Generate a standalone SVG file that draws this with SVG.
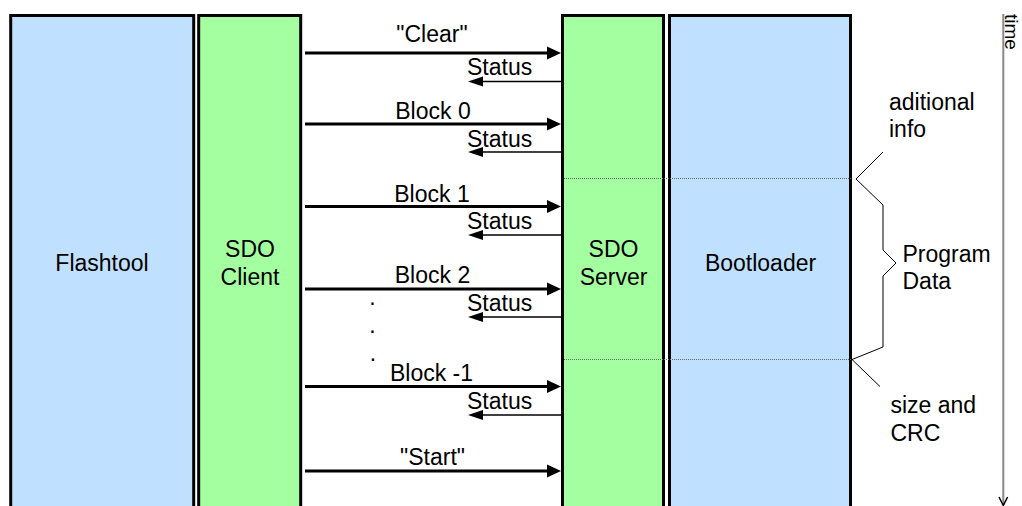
<svg xmlns="http://www.w3.org/2000/svg" width="1022" height="506" viewBox="0 0 1022 506">
<style>
.t{font-family:"Liberation Sans",Arial,sans-serif;font-size:23px;fill:#000}
.m{text-anchor:middle}
.blue{fill:#c0e0ff;stroke:#000;stroke-width:3}
.green{fill:#a3ffa0;stroke:#000;stroke-width:3}
.fw{stroke:#000;stroke-width:3.2;fill:none}
.bw{stroke:#000;stroke-width:1.5;fill:none}
.dot{stroke:#666;stroke-width:1;stroke-dasharray:1 1;fill:none}
.thin{stroke:#000;stroke-width:1;fill:none}
</style>
<defs>
<marker id="ahBig" markerUnits="userSpaceOnUse" markerWidth="16" markerHeight="16" viewBox="-2 -8 16 16" refX="0" refY="0" orient="auto">
<path d="M-1,-6.5 L13,0 L-1,6.5 z" fill="#000"/>
</marker>
<marker id="ahSmall" markerUnits="userSpaceOnUse" markerWidth="16" markerHeight="12" viewBox="-2 -6 16 12" refX="0" refY="0" orient="auto">
<path d="M-1,-5 L14,0 L-1,5 z" fill="#000"/>
</marker>
</defs>

<g id="flashtool">
<rect class="blue" x="10.7" y="15.5" width="183" height="520"/>
<text class="t m" x="102" y="271">Flashtool</text>
</g>
<g id="sdo-client">
<rect class="green" x="198.7" y="15.5" width="102" height="520"/>
<text class="t m" x="250" y="256.5">SDO</text>
<text class="t m" x="250" y="285">Client</text>
</g>
<g id="sdo-server">
<rect class="green" x="562.5" y="15.5" width="101" height="520"/>
<text class="t m" x="613.5" y="256.5">SDO</text>
<text class="t m" x="613.5" y="285">Server</text>
</g>
<g id="bootloader">
<rect class="blue" x="669.5" y="15.5" width="181" height="520"/>
<text class="t m" x="760.5" y="271">Bootloader</text>
</g>

<g id="sections">
<path class="dot" d="M564,178.5 H851 M564,359.5 H851"/>
<path class="thin" d="M883,152 L856,179 L883,205 L883,250 L896,263 L883,276 L883,347 L852,359.5 L880,386.5"/>
<text class="t" x="889" y="110">aditional</text>
<text class="t" x="889" y="137">info</text>
<text class="t" x="902.5" y="261.5">Program</text>
<text class="t" x="902.5" y="289">Data</text>
<text class="t" x="890.5" y="412.5">size and</text>
<text class="t" x="890.5" y="440.5">CRC</text>
</g>

<g id="time-axis">
<path d="M1003.3,14 V505" stroke="#888" stroke-width="2" fill="none"/>
<path d="M999,497 L1003.3,505.5 L1007.6,497" stroke="#000" stroke-width="1.5" fill="none"/>
<text class="t" style="font-size:19px" transform="translate(1004.8,14) rotate(90)">time</text>
</g>

<g id="connectors">
<path class="fw" d="M305,53 H548" marker-end="url(#ahBig)"/>
<path class="bw" d="M561,81.5 H482" marker-end="url(#ahSmall)"/>
<path class="fw" d="M305,124 H548" marker-end="url(#ahBig)"/>
<path class="bw" d="M561,152 H482" marker-end="url(#ahSmall)"/>
<path class="fw" d="M305,206.5 H548" marker-end="url(#ahBig)"/>
<path class="bw" d="M561,235 H482" marker-end="url(#ahSmall)"/>
<path class="fw" d="M305,289 H548" marker-end="url(#ahBig)"/>
<path class="bw" d="M561,317 H482" marker-end="url(#ahSmall)"/>
<path class="fw" d="M305,386.5 H548" marker-end="url(#ahBig)"/>
<path class="bw" d="M561,415 H482" marker-end="url(#ahSmall)"/>
<path class="fw" d="M305,471 H548" marker-end="url(#ahBig)"/>
<text class="t m" x="432" y="42">"Clear"</text>
<text class="t" x="467" y="75">Status</text>
<text class="t m" x="433" y="119">Block 0</text>
<text class="t" x="467" y="146.5">Status</text>
<text class="t m" x="432" y="201.5">Block 1</text>
<text class="t" x="467" y="228.5">Status</text>
<text class="t m" x="432.5" y="283">Block 2</text>
<text class="t" x="467" y="311">Status</text>
<text class="t m" x="431.5" y="381">Block -1</text>
<text class="t" x="467" y="408.5">Status</text>
<text class="t m" x="432.5" y="465">"Start"</text>
<text class="t m" x="372.5" y="305">.</text>
<text class="t m" x="372.5" y="333">.</text>
<text class="t m" x="373" y="361">.</text>
</g>
</svg>
